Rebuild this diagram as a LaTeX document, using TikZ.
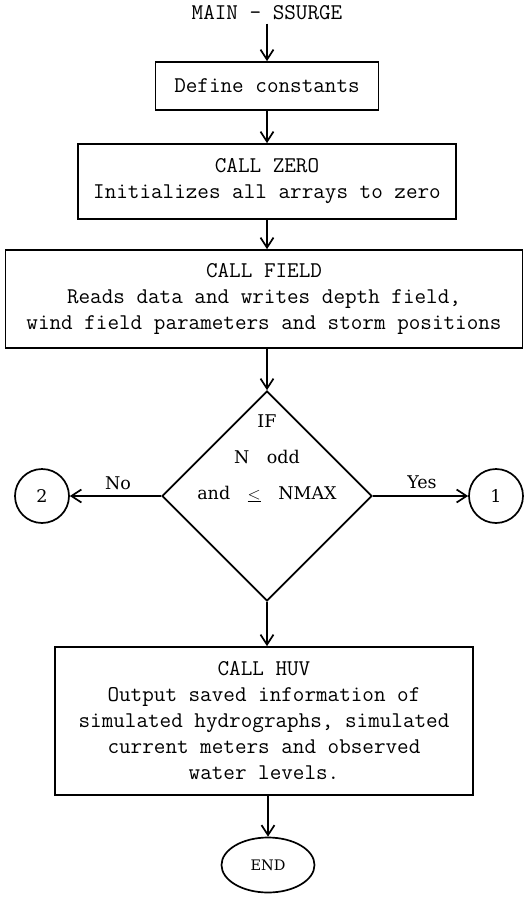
\documentclass[tikz,border=0pt]{standalone}
\usepackage{fontspec}
\usetikzlibrary{shapes.geometric}
\usetikzlibrary{arrows.meta}
\usetikzlibrary{positioning}

\newfontfamily\decfam{DejaVu Serif}
\newcommand{\boxfont}{\fontsize{22.5}{26}\selectfont\ttfamily}
\newcommand{\decfont}{\fontsize{17.5}{36}\selectfont\decfam}
\newcommand{\stopfont}{\fontsize{14.5}{18}\selectfont\decfam}

\begin{document}
\begin{tikzpicture}[
        x=1pt, y=-1pt,
        procbox/.style={rectangle, draw=black, line width=1.7pt, align=center, font=\boxfont, inner sep=0},
        decision/.style={diamond, draw=black, line width=1.7pt, minimum size=210pt, inner sep=0, aspect=1},
        connector/.style={circle, draw=black, line width=1.7pt, minimum size=54pt, inner sep=0, font=\decfont},
        terminal/.style={ellipse, draw=black, line width=1.7pt, minimum width=93pt, minimum height=55pt, inner sep=0, font=\stopfont},
        flow/.style={->, line width=1.7pt},
        >={Straight Barb[length=10pt,width=13pt]}
    ]

        \useasboundingbox (0,0) rectangle (527,901);

        % title
        \node[font=\boxfont] (title) at (267,13) {MAIN - SSURGE};

        % subroutine boxes
        \node[procbox, minimum width=223pt, minimum height=48pt] (define) at (267,86) {Define constants};
        \node[procbox, minimum width=378pt, minimum height=75pt] (zero) at (267,181.5) {CALL ZERO\\Initializes all arrays to zero};
        \node[procbox, minimum width=517pt, minimum height=98pt] (field) at (264,299) {CALL FIELD\\Reads data and writes depth field,\\wind field parameters and storm positions};

        % test on N
        \node[decision] (test) at (267,496) {};
        \node[align=center, font=\decfont] (testtext) at (267,458) {IF\\N\quad odd\\and\quad\underline{$<$}\quad NMAX};

        % off-page connectors
        \node[connector] (conn2) at (42,496) {2};
        \node[connector] (conn1) at (496,496) {1};
        \node[font=\decfont] (nolabel) at (118,483) {No};
        \node[font=\decfont] (yeslabel) at (422,482) {Yes};

        % output and end
        \node[procbox, minimum width=418pt, minimum height=148pt] (huv) at (264,721) {CALL HUV\\Output saved information of\\simulated hydrographs, simulated\\current meters and observed\\water levels.};
        \node[terminal] (stop) at (268,865) {END};

        % vertical flow
        \draw[flow] (title) -- (define);
        \draw[flow] (define) -- (zero);
        \draw[flow] (zero) -- (field.north -| zero);
        \draw[flow] (field.south -| test) -- (test.north);
        \draw[flow] (test.south) -- (huv.north -| test);
        \draw[flow] (huv.south -| stop) -- (stop.north);

        % branches
        \draw[flow] (test.west) -- (conn2);
        \draw[flow] (test.east) -- (conn1);

    \end{tikzpicture}
\end{document}
